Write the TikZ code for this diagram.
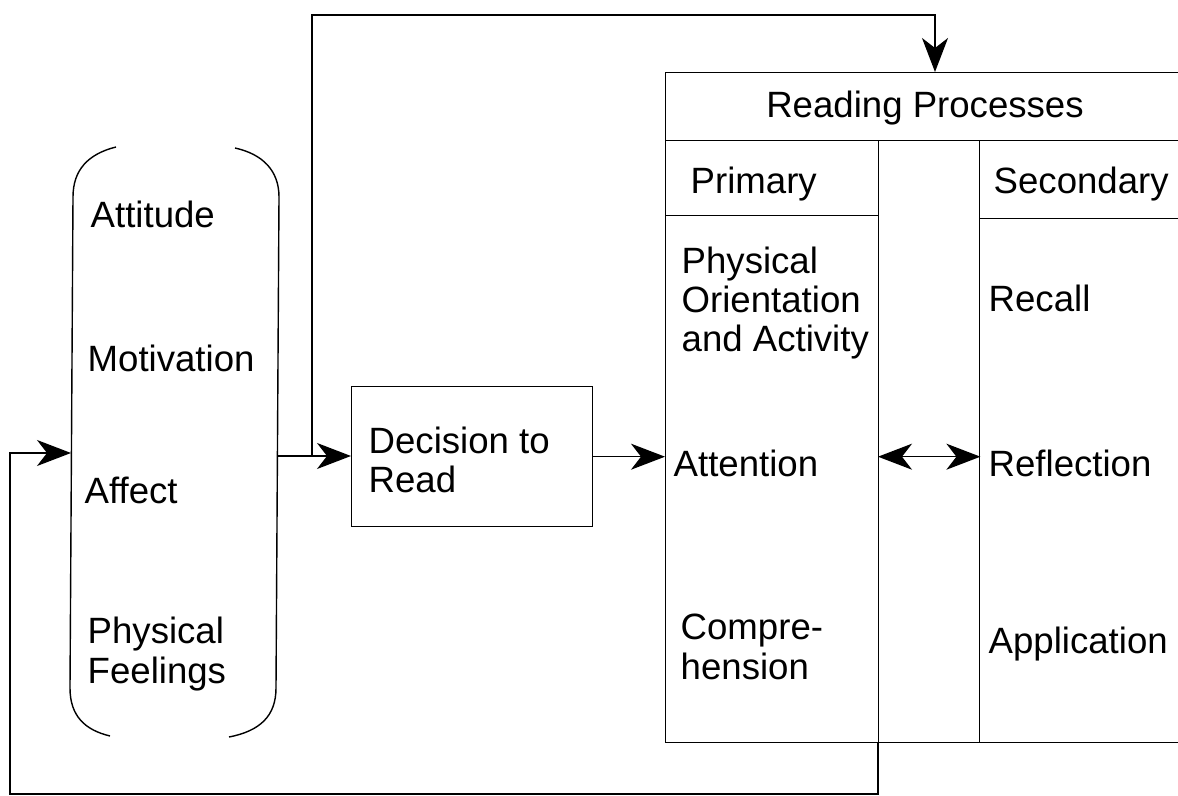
\documentclass[tikz,border=0pt]{standalone}
\usepackage{fontspec}
\setmainfont{Liberation Sans}
\usetikzlibrary{arrows.meta}

\begin{document}
\begin{tikzpicture}[x=0.5pt,y=-0.5pt,line width=0.7pt,
>={Stealth[length=17pt,width=13pt,inset=5pt]},
font=\fontsize{18.3}{19.6}\selectfont,
lbl/.style={anchor=base west,inner sep=0pt,align=left},
cell/.style={draw,anchor=north west,inner sep=0pt}]
\useasboundingbox (0,0) rectangle (1178,796);
\clip (0,0) rectangle (1178,796);

% influences in brackets
\draw (116,147) .. controls (88,154) and (73,170) .. (73,197) -- (70,688) .. controls (70,716) and (85,730) .. (110,736);
\draw (235,148) .. controls (262,154) and (279,170) .. (279,197) -- (276,688) .. controls (276,716) and (260,731) .. (229,737);
\coordinate (infl-in) at (71,453);
\coordinate (infl-out) at (277,456);
\coordinate (split) at (312,456);
\node[lbl] (att) at (90,228) {Attitude};
\node[lbl] (mot) at (87,372) {Motivation};
\node[lbl] (aff) at (84,503) {Affect};
\node[lbl] (phys) at (87,683) {Physical\\Feelings};

% decision
\node[cell,minimum width=120.5pt,minimum height=70pt] (dec) at (351,386) {};
\node[lbl] (dec-txt) at (368,493) {Decision to\\Read};

% reading processes
\node[cell,minimum width=300pt,minimum height=34pt] (rp) at (665,72) {};
\node (rp-txt) at (925,108) {Reading Processes};
\node[cell,minimum width=106.5pt,minimum height=37.5pt] (prim) at (665,140) {};
\node[cell,minimum width=106.5pt,minimum height=263.5pt] (prim-col) at (665,215) {};
\node[cell,minimum width=50.5pt,minimum height=301pt] (mid) at (878,140) {};
\node[cell,minimum width=143pt,minimum height=39pt] (sec) at (979,140) {};
\node[cell,minimum width=143pt,minimum height=262pt] (sec-col) at (979,218) {};
\coordinate (rp-in) at (935,72);

\node[lbl] (prim-txt) at (690,194) {Primary};
\node[lbl] (orient) at (681,352) {Physical\\Orientation\\and Activity};
\node[lbl] (atten) at (673,477) {Attention};
\node[lbl] (compr) at (680,679) {Compre-\\hension};
\node[lbl] (sec-txt) at (993,194) {Secondary};
\node[lbl] (recall) at (988,312) {Recall};
\node[lbl] (refl) at (988,477) {Reflection};
\node[lbl] (appl) at (988,653) {Application};

% connectors
\path[->] (infl-out) edge (dec.west |- infl-out);
\draw[->] (split) -- (split |- 0,15) -| (rp-in);
\draw[->] (dec.east) -- (dec.east -| prim-col.west);
\draw[<->] (mid.west |- dec.east) -- (mid.east |- dec.east);
\draw[->] (mid.south west) |- (10,794) |- (infl-in);
\end{tikzpicture}
\end{document}
